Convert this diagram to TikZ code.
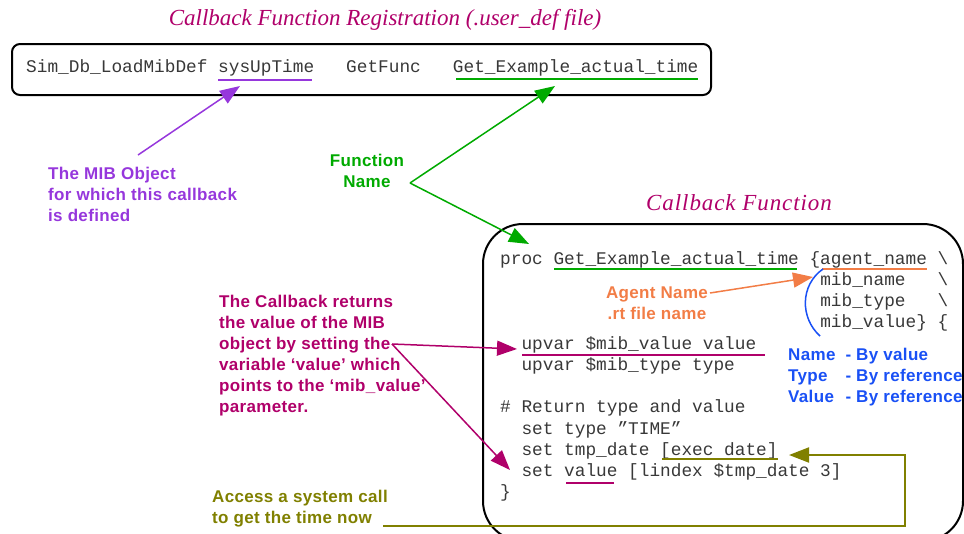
\documentclass[tikz,border=0pt]{standalone}
\usepackage{fontspec}
\setmainfont{Liberation Serif}
\setsansfont{Liberation Sans}
\setmonofont{Liberation Mono}
\usetikzlibrary{arrows.meta}

\definecolor{cPurple}{RGB}{150,55,220}
\definecolor{cGreen}{RGB}{0,170,0}
\definecolor{cMagenta}{RGB}{176,0,106}
\definecolor{cOrange}{RGB}{242,125,70}
\definecolor{cBlue}{RGB}{25,80,245}
\definecolor{cOlive}{RGB}{128,128,0}

\tikzset{
  heading/.style={font=\fontsize{23}{27}\selectfont\itshape, text=cMagenta, inner sep=0pt},
  code/.style={font=\fontsize{17.78}{21}\selectfont\ttfamily, anchor=base west, inner sep=0pt, text=black!78},
  note/.style={font=\fontsize{17}{21}\selectfont\sffamily\bfseries\addfontfeatures{LetterSpace=2}, inner sep=0pt, align=left},
  uline/.style={line width=2pt},
  frame/.style={draw, line width=2pt},
  conn/.style={line width=1.5pt, -{Triangle[length=20pt,width=15pt]}},
}

% column of the code listing (Courier-width characters)
\newcommand{\ccol}[1]{500+#1*10.67}

\begin{document}
\begin{tikzpicture}[x=1pt,y=-1pt]
\useasboundingbox (0,0) rectangle (964,533);

% ---------------- registration line ----------------
\node[heading] (regTitle) at (385,20) {Callback Function Registration (.user\_def file)};
\node[frame, rounded corners=8pt, minimum width=699pt, minimum height=51pt] (regBox) at (361.5,69.5) {};
\node[code] (regLine) at (26,72)
  {Sim\_Db\_LoadMibDef sysUpTime\ \ \ GetFunc\ \ \ Get\_Example\_actual\_time};
\draw[uline, cPurple] (218,80) -- (312,80);
\draw[uline, cGreen] (456,79) -- (698,79);

% ---------------- callback function ----------------
\node[heading, font=\fontsize{23}{27}\selectfont\itshape\addfontfeatures{LetterSpace=4}] (cbTitle) at (739,203) {Callback Function};
\node[frame, rounded corners=40pt, minimum width=480pt, minimum height=317pt] (cbBox) at (723,382.5) {};

\node[code] (c0)  at ({\ccol{0}},264)    {proc Get\_Example\_actual\_time \{agent\_name \textbackslash};
\node[code] (c1)  at ({\ccol{30}},285.25) {mib\_name\ \ \ \textbackslash};
\node[code] (c2)  at ({\ccol{30}},306.5)  {mib\_type\ \ \ \textbackslash};
\node[code] (c3)  at ({\ccol{30}},327.75) {mib\_value\} \{};
\node[code] (c4)  at ({\ccol{2}},349)     {upvar \$mib\_value value};
\node[code] (c5)  at ({\ccol{2}},370.25)  {upvar \$mib\_type type};
\node[code] (c6)  at ({\ccol{0}},412.75)  {\# Return type and value};
\node[code] (c7)  at ({\ccol{2}},434)     {set type ”TIME”};
\node[code] (c8)  at ({\ccol{2}},455.25)  {set tmp\_date [exec date]};
\node[code] (c9)  at ({\ccol{2}},476.5)   {set value [lindex \$tmp\_date 3]};
\node[code] (c10) at ({\ccol{0}},497.75)  {\}};

\draw[uline, cGreen]   (554,269) -- (797,269);
\draw[uline, cOrange]  (822,269) -- (927,269);
\draw[uline, cMagenta] (522,355) -- (765,355);
\draw[uline, cOlive]   (662,459) -- (778,459);
\draw[uline, cMagenta] (566,483) -- (614,483);

% bracket around the parameter list
\draw[cBlue, line width=1.5pt] (823,269) .. controls (800,285) and (800,318) .. (820,336);

% ---------------- annotations ----------------
\node[note, text=cPurple, anchor=north west] (mibNote) at (48,167)
  {The MIB Object\\for which this callback\\is defined};
\node[note, text=cGreen, align=center, anchor=north] (fnNote) at (367,154)
  {Function\\Name};
\node[note, text=cOrange, align=center, anchor=north] (agNote) at (657,287)
  {Agent Name\\.rt file name};
\node[note, text=cBlue, anchor=north west] (passNote) at (788,346)
  {\begin{tabular}{@{}l@{\hspace{10pt}}l@{}}Name&- By value\\Type&- By reference\\Value&- By reference\end{tabular}};
\node[note, text=cMagenta, anchor=north west] (cbNote) at (219,295)
  {The Callback returns\\the value of the MIB\\object by setting the\\variable ‘value’ which\\points to the ‘mib\_value’\\parameter.};
\node[note, text=cOlive, anchor=north west] (sysNote) at (212,490)
  {Access a system call\\to get the time now};

% ---------------- connectors ----------------
\coordinate (mibFrom) at (138,155);
\coordinate (mibTo)   at (240,86);
\coordinate (fnFrom)  at (410,183);
\coordinate (fnTo1)   at (555,86);
\coordinate (fnTo2)   at (529,244);
\coordinate (agFrom)  at (710,293);
\coordinate (agTo)    at (813,277);
\coordinate (cbFrom)  at (392,344);
\coordinate (cbTo1)   at (517,349);
\coordinate (cbTo2)   at (510,470);
\coordinate (sysFrom) at (383,526);
\coordinate (sysBend) at (905,455);
\coordinate (sysTo)   at (789,455);

\draw[conn, cPurple]  (mibFrom) -- (mibTo);
\draw[conn, cGreen]   (fnFrom) -- (fnTo1);
\draw[conn, cGreen]   (fnFrom) -- (fnTo2);
\draw[conn, cOrange]  (agFrom) -- (agTo);
\draw[conn, cMagenta] (cbFrom) -- (cbTo1);
\draw[conn, cMagenta] (cbFrom) -- (cbTo2);
\draw[conn, cOlive, line width=2pt] (sysFrom) -| (sysBend) -- (sysTo);
\end{tikzpicture}
\end{document}
